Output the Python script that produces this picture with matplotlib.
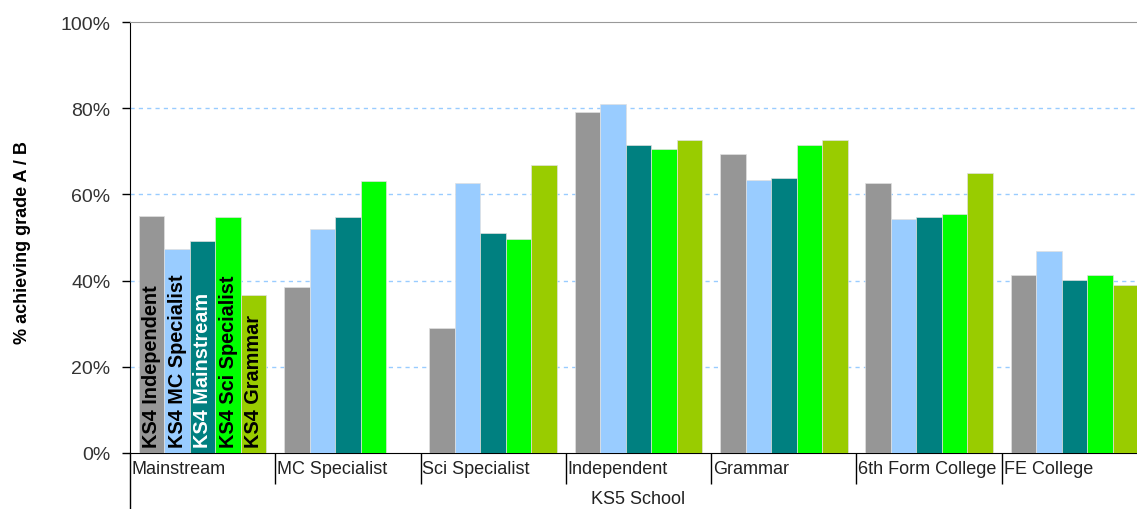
# Grouped bars: % achieving grade A / B by KS5 school type, split by KS4 school
import numpy as np
import matplotlib.pyplot as plt

plt.rcParams['font.family'] = ['Liberation Sans', 'DejaVu Sans']

# KS5 school types (x groups)
ks5 = ['Mainstream', 'MC Specialist', 'Sci Specialist', 'Independent',
       'Grammar', '6th Form College', 'FE College']

# KS4 school series
series = ['KS4 Independent', 'KS4 MC Specialist', 'KS4 Mainstream',
          'KS4 Sci Specialist', 'KS4 Grammar']
colors = ['#969696', '#99CCFF', '#008080', '#00FF00', '#99CC00']
text_colors = ['black', 'black', 'white', 'black', 'black']

# values in %, nan = no data
ks4_independent = [55.1, 38.4, 29.0, 79.2, 69.4, 62.6, 41.3]
ks4_mc_spec     = [47.3, 52.0, 62.6, 81.0, 63.4, 54.2, 46.8]
ks4_mainstream  = [49.3, 54.8, 51.1, 71.4, 63.7, 54.8, 40.2]
ks4_sci_spec    = [54.8, 63.2, 49.7, 70.6, 71.5, 55.4, 41.3]
ks4_grammar     = [36.7, np.nan, 66.8, 72.6, 72.6, 64.9, 39.0]
values = [ks4_independent, ks4_mc_spec, ks4_mainstream, ks4_sci_spec, ks4_grammar]

fig = plt.figure(figsize=(11.37, 5.10), dpi=100)
ax = fig.add_axes([130/1137, 56/510, 1017/1137, 431/510])

n = len(series)
w = 1 / (n + 0.7)
x0 = np.arange(len(ks5)) + 0.35 * w

for i, (vals, c) in enumerate(zip(values, colors)):
    ax.bar(x0 + i * w, vals, width=w, align='edge', color=c,
           edgecolor='#e0e0e0', linewidth=0.5, zorder=3)

# series names written inside the first group's bars
for i, (name, tc) in enumerate(zip(series, text_colors)):
    ax.text(x0[0] + (i + 0.5) * w, 1.5, name, rotation=90, ha='center',
            va='bottom', color=tc, fontsize=14.3, fontweight='bold', zorder=4)

ax.set_xlim(0, len(ks5))
ax.set_ylim(0, 100)
ax.set_yticks([0, 20, 40, 60, 80, 100])
ax.set_yticklabels(['%d%%' % v for v in [0, 20, 40, 60, 80, 100]],
                   fontsize=14, color='#333333')
for v in [20, 40, 60, 80]:
    ax.axhline(v, color='#99CCFF', lw=1, ls=(0, (3, 3)), zorder=1)

ax.set_ylabel('% achieving grade A / B', fontsize=13, fontweight='bold')
ax.yaxis.set_label_coords(-0.097, 0.49)

# category separators below the axis
ax.set_xticks(np.arange(1, len(ks5)))
ax.set_xticklabels([])
ax.tick_params(axis='x', length=22, width=1, color='black')
ax.tick_params(axis='y', length=6, width=1, color='black', pad=8)
for i, name in enumerate(ks5):
    ax.text(i + 0.013, -3.7, name, ha='left', va='center', fontsize=13,
            color='#222222')
ax.text(0.5, -0.105, 'KS5 School', transform=ax.transAxes, ha='center',
        va='center', fontsize=13, color='#222222')

# left axis line runs down through the category label area
ax.plot([0, 0], [0, -0.14], transform=ax.transAxes, color='black', lw=1,
        clip_on=False)

ax.spines['top'].set_color('#999999')
ax.spines['right'].set_visible(False)
ax.spines['left'].set_color('black')
ax.spines['bottom'].set_color('black')

fig.savefig('out.png', dpi=100)
